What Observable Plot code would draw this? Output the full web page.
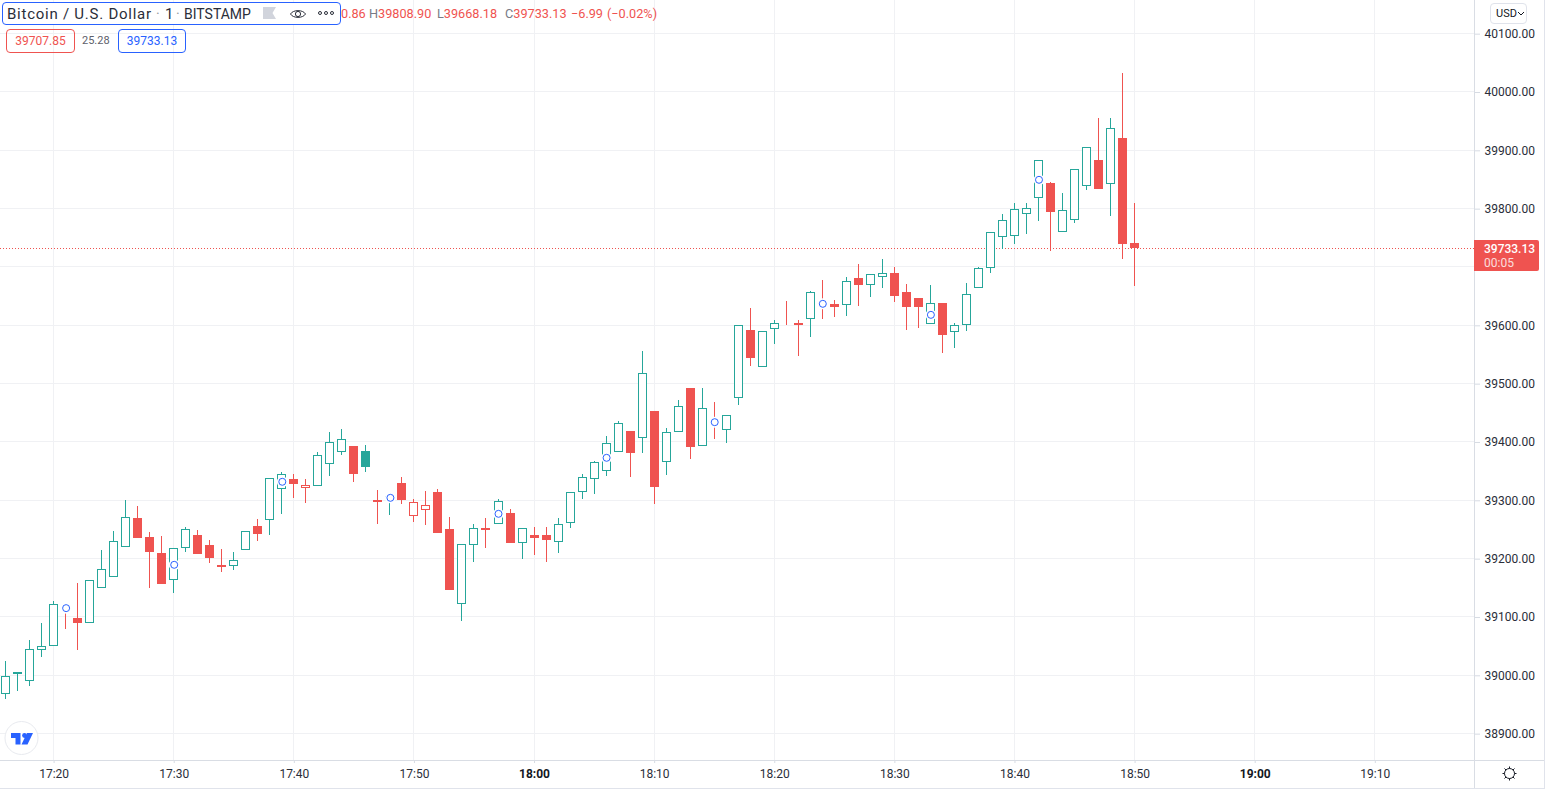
<!DOCTYPE html>
<html><head><meta charset="utf-8">
<script src="https://cdn.jsdelivr.net/npm/d3@7"></script>
<script src="https://cdn.jsdelivr.net/npm/@observablehq/plot@0.6"></script>
<style>
html,body{margin:0;padding:0;background:#fff}
#wrap{position:relative;width:1545px;height:789px;overflow:hidden;font-family:Roboto,sans-serif;color:#131722}
#wrap svg{display:block}
.ov{position:absolute;white-space:nowrap;box-sizing:border-box}
</style></head><body><div id="wrap"></div>
<script>
const times = ["17:16","17:17","17:18","17:19","17:20","17:21","17:22","17:23","17:24","17:25","17:26","17:27","17:28","17:29","17:30","17:31","17:32","17:33","17:34","17:35","17:36","17:37","17:38","17:39","17:40","17:41","17:42","17:43","17:44","17:45","17:46","17:47","17:48","17:49","17:50","17:51","17:52","17:53","17:54","17:55","17:56","17:57","17:58","17:59","18:00","18:01","18:02","18:03","18:04","18:05","18:06","18:07","18:08","18:09","18:10","18:11","18:12","18:13","18:14","18:15","18:16","18:17","18:18","18:19","18:20","18:21","18:22","18:23","18:24","18:25","18:26","18:27","18:28","18:29","18:30","18:31","18:32","18:33","18:34","18:35","18:36","18:37","18:38","18:39","18:40","18:41","18:42","18:43","18:44","18:45","18:46","18:47","18:48","18:49","18:50"];
const opens = [38967.4,39002.9,38989.7,39042.9,39049.7,39117.7,39098.3,39090.3,39150.3,39169.1,39220.6,39269.7,39237.1,39209.7,39164,39218.8,39240.6,39223.4,39189.1,39188,39215.4,39256,39265.7,39320,39336.6,39321.7,39325.1,39362.8,39383.4,39393.1,39384.6,39300.6,39303.4,39329.7,39273.7,39284,39314.3,39250.9,39121.7,39224,39252.6,39258.8,39278.3,39227.4,39240.5,39240.5,39228,39260.5,39313.7,39336,39349.7,39382.2,39418.8,39406.2,39453.1,39365.1,39416.5,39492.5,39392.5,39437.1,39420,39474.8,39592,39527.9,39593.7,39602.8,39604,39610.2,39639.4,39636.5,39634.2,39681.1,39668.5,39682.2,39689.7,39657.1,39646.8,39601.7,39638.2,39588,39600,39663.5,39697.8,39750.9,39752.6,39790.3,39817.8,39844.1,39759.5,39780.1,39838.3,39883.5,39841.8,39921.2,39740.86];
const highs = [39024.6,39005.7,39060.6,39089.7,39127.4,39120.6,39158.3,39162.9,39214.8,39247.4,39300.6,39290.3,39245.7,39238.8,39217.7,39254.3,39249.1,39232,39216.6,39211.4,39246.8,39268,39337.7,39348.6,39345.1,39336.6,39382.8,39417.1,39422.3,39393.1,39394.8,39317.7,39308.6,39340,39302.3,39316,39319.4,39271.4,39224.6,39259.4,39269.7,39302.3,39285.1,39252,39254.2,39254.2,39269.7,39313.7,39345.1,39367.4,39410.2,39435.9,39418.8,39555.9,39453.1,39423.9,39471.9,39492.5,39492.5,39468.5,39445.7,39600.5,39629.7,39590.3,39609.1,39641.7,39609.1,39658.8,39677.7,39643.4,39682.8,39705.1,39687.4,39713.7,39700,39670.8,39646.8,39669.1,39638.2,39603.4,39672.5,39700.1,39759.5,39790.9,39809.8,39809.8,39882.9,39845.8,39826.9,39867.5,39905.2,39955.5,39955.5,40032.6,39808.9];
const lows = [38959.4,38973.1,38981.7,39032,39049.7,39079.4,39043.4,39090.3,39150.3,39169.1,39220.6,39235.4,39149.7,39156.6,39141.1,39211.4,39208,39192.6,39177.1,39180.6,39215.4,39230.3,39240.6,39276.6,39304,39295.4,39325.1,39341.7,39377.7,39331.4,39348.6,39259.4,39274.8,39293.7,39262.8,39257.7,39244,39146.3,39093.1,39194.3,39218.3,39258.8,39226.9,39199.4,39206.2,39194.2,39209.7,39252.5,39302.2,39310.8,39341.7,39382.2,39340,39381.1,39293.7,39343.4,39416.5,39370.8,39392.5,39405.1,39398.2,39463.4,39530.2,39527.9,39567.9,39600.5,39547.4,39580,39610.8,39614.2,39616,39633.1,39648.5,39664,39640,39592,39595.4,39601.7,39552.5,39561.1,39590.2,39663.5,39689.8,39730.9,39739.5,39756.6,39778.9,39727.5,39759.5,39775.5,39832.1,39833.8,39787.5,39713.8,39668.18];
const closes = [38998.3,39005.1,39044.6,39049.7,39121.7,39114.3,39089.7,39162.9,39181.7,39229.7,39270.8,39235.4,39211.4,39156.6,39217.7,39250.3,39208,39201.1,39185.7,39197.1,39246.8,39242.3,39337.7,39344.6,39328,39325.7,39377.1,39399.4,39404.6,39345.1,39357.1,39297.1,39306.8,39300.6,39296.6,39291.4,39244,39146.3,39224.6,39252,39249.1,39298.3,39226.9,39252,39235.4,39232,39258.8,39313.7,39339.4,39365.1,39397.7,39431.9,39381.1,39517.7,39322.8,39416.5,39461.1,39391.4,39457.7,39432.5,39445.7,39600.5,39544.5,39590.3,39604,39600.5,39600.2,39656.5,39636,39631.4,39675.4,39669.1,39687.4,39689.1,39650.2,39631.4,39631.2,39637.7,39583.4,39600,39653.1,39697.8,39759.5,39780.1,39798.9,39800.6,39882.9,39794.3,39797.2,39867.5,39905.2,39833.8,39937.8,39740.12,39733.13];
const markerTimes = ["17:21","17:30","17:39","17:48","17:57","18:06","18:15","18:24","18:33","18:42"];
const markerPrices = [39116,39190.3,39332.6,39305.1,39277.7,39373.7,39434.8,39637.7,39618.8,39850.3];
const priceTicks = [38900,39000,39100,39200,39300,39400,39500,39600,39700,39800,39900,40000,40100];
const hiddenPriceTick = 39700;
const timeTicks = ["17:20","17:30","17:40","17:50","18:00","18:10","18:20","18:30","18:40","18:50","19:00","19:10"];
const boldTimeTicks = ["18:00","19:00"];
const lastClose = 39733.13;
const upColor = "#26a69a", downColor = "#ef5350", gridColor = "#f0f1f4", markerColor = "#2962ff";

const at = s => { const [h, m] = s.split(":").map(Number); return new Date(Date.UTC(2021, 1, 8, h, m)); };
const MIN = 60000, pxPerMin = 12.011;
const shift = (d, px) => new Date(+d + (px / pxPerMin) * MIN);
const candles = times.map((t, i) => {
  const rising = i === 0 || closes[i] >= closes[i - 1];
  const color = rising ? upColor : downColor;
  return {t: at(t), o: opens[i], h: highs[i], l: lows[i], c: closes[i], color, fill: closes[i] > opens[i] ? "#fff" : color};
});
const markers = markerTimes.map((t, i) => ({t: at(t), p: markerPrices[i]}));

// Crisp pixel alignment, as the original canvas chart has.
const snapWith = roundY => function (index, scales, values, dim, ctx, next) {
  const g = next(index, scales, values, dim, ctx);
  d3.select(g).selectAll("line").each(function () {
    for (const a of ["x1", "x2"]) { const v = this.getAttribute(a); if (v != null) this.setAttribute(a, Math.floor(+v)); }
    for (const a of ["y1", "y2"]) { const v = this.getAttribute(a); if (v != null) this.setAttribute(a, roundY(+v)); }
  });
  d3.select(g).selectAll("rect").each(function () {
    const x = +this.getAttribute("x"), w = +this.getAttribute("width"), y = +this.getAttribute("y"), h = +this.getAttribute("height");
    const y0 = Math.round(y), y1 = Math.round(y + h), rw = Math.round(w);
    this.setAttribute("x", Math.floor(x + w / 2) - rw / 2 + 0.5);
    this.setAttribute("width", rw);
    this.setAttribute("y", y0 + 0.5);
    this.setAttribute("height", Math.max(y1 - y0 - 1, 0));
  });
  return g;
};
const snap = snapWith(Math.floor), snapRound = snapWith(Math.round);

const xStart = shift(at("17:20"), -53.6), xEnd = shift(at("17:20"), 1474 - 53.6);
const plot = Plot.plot({
  width: 1545, height: 789,
  marginLeft: 0, marginRight: 71, marginTop: 0, marginBottom: 29,
  style: {background: "#fff", fontFamily: "Roboto, sans-serif", fontSize: "12px"},
  x: {type: "utc", domain: [xStart, xEnd], label: null, axis: null},
  y: {domain: [38854.8, 40157.7], label: null, axis: null},
  color: {type: "identity"},
  marks: [
    Plot.ruleX(timeTicks.map(at), {stroke: gridColor, strokeWidth: 1, render: snap}),
    Plot.ruleY(priceTicks, {stroke: gridColor, strokeWidth: 1, render: snap}),
    Plot.ruleY([lastClose], {stroke: downColor, strokeWidth: 1, strokeDasharray: "1 2", render: snapRound}),
    Plot.ruleX(candles, {x: "t", y1: "l", y2: "h", stroke: "color", strokeWidth: 1, render: snapRound}),
    Plot.rect(candles, {x1: d => shift(d.t, -4), x2: d => shift(d.t, 4), y1: "o", y2: "c", fill: "fill", stroke: "color", strokeWidth: 1, render: snapRound}),
    Plot.dot(markers, {x: "t", y: "p", r: 5.5, fill: "#fff", stroke: null}),
    Plot.dot(markers, {x: "t", y: "p", r: 3.5, fill: "#fff", stroke: markerColor, strokeWidth: 1}),
    Plot.axisY({anchor: "right", ticks: priceTicks.filter(v => v !== hiddenPriceTick), tickFormat: d3.format(".2f"), tickSize: 5, tickPadding: 5, color: "#2a2e39", stroke: "#d6dbe3", label: null, fontSize: 12, fontVariant: "normal"}),
    Plot.axisX({anchor: "bottom", ticks: timeTicks.filter(t => !boldTimeTicks.includes(t)).map(at), tickFormat: d3.utcFormat("%H:%M"), tickSize: 3, tickPadding: 6, color: "#2a2e39", stroke: "#d6dbe3", label: null, fontSize: 12, fontVariant: "normal"}),
    Plot.axisX({anchor: "bottom", ticks: boldTimeTicks.map(at), tickFormat: d3.utcFormat("%H:%M"), tickSize: 3, tickPadding: 6, color: "#131722", stroke: "#d6dbe3", label: null, fontSize: 12, fontWeight: "bold", fontVariant: "normal"})
  ]
});
const wrap = document.getElementById("wrap");
wrap.appendChild(plot);

const overlay = `
<div class="ov" style="left:1474px;top:0;width:1px;height:789px;background:#d9dde4"></div>
<div class="ov" style="left:0;top:760px;width:1545px;height:1px;background:#d9dde4"></div>
<div class="ov" style="left:1544px;top:0;width:1px;height:789px;background:#e0e3eb"></div>
<div class="ov" style="left:0;top:788px;width:1545px;height:1px;background:#e0e3eb"></div>

<div class="ov" style="left:1474px;top:240px;width:65px;height:31px;background:#ef5350;border-radius:0 2px 2px 0;color:#fff;padding-left:10px;font-size:12px;line-height:14px;padding-top:2px">
  <div style="font-weight:500">39733.13</div><div style="opacity:.8">00:05</div></div>

<div class="ov" style="left:341px;top:5px;height:18px;width:330px;font-size:12.7px;line-height:18px;color:#ef5350">
  <span style="position:absolute;left:0">0.86</span>
  <span style="position:absolute;left:28px"><span style="color:#787b86">H</span>39808.90</span>
  <span style="position:absolute;left:96px"><span style="color:#787b86">L</span>39668.18</span>
  <span style="position:absolute;left:164px"><span style="color:#787b86">C</span>39733.13</span>
  <span style="position:absolute;left:230px">−6.99</span>
  <span style="position:absolute;left:266px">(−0.02%)</span>
</div>
<div class="ov" style="left:2px;top:2px;width:339px;height:23px;background:#fff;border:1px solid #2962ff;border-radius:4px"></div>
<div class="ov" style="left:7px;top:5px;font-size:15px;line-height:18px;letter-spacing:.75px;color:#2a2e39">Bitcoin / U.S. Dollar</div>
<div class="ov" style="left:156px;top:5px;font-size:14px;line-height:18px;color:#9598a1">·</div>
<div class="ov" style="left:165px;top:5px;font-size:15px;line-height:18px;color:#2a2e39">1</div>
<div class="ov" style="left:176px;top:5px;font-size:14px;line-height:18px;color:#9598a1">·</div>
<div class="ov" style="left:184px;top:5px;font-size:14px;line-height:18px;color:#2a2e39">BITSTAMP</div>
<svg class="ov" style="left:262px;top:6px" width="16" height="15"><path d="M1 1H14L10.5 7L14 13H1Z" fill="#d1d4dc"/></svg>
<svg class="ov" style="left:289px;top:5px" width="18" height="18"><path d="M1.5 9C4 4.5 14 4.5 16.5 9C14 13.5 4 13.5 1.5 9Z" fill="none" stroke="#2a2e39" stroke-width="1"/><circle cx="9" cy="9" r="2.6" fill="none" stroke="#2a2e39" stroke-width="1"/></svg>
<svg class="ov" style="left:317px;top:8px" width="18" height="10"><g fill="none" stroke="#2a2e39" stroke-width="1"><circle cx="3" cy="5" r="1.5"/><circle cx="9" cy="5" r="1.5"/><circle cx="15" cy="5" r="1.5"/></g></svg>

<div class="ov" style="left:6px;top:29px;width:69px;height:24px;border:1px solid #ef5350;border-radius:4px;color:#ef5350;font-size:12px;line-height:22px;text-align:center">39707.85</div>
<div class="ov" style="left:82px;top:29px;height:24px;color:#5d606b;font-size:11px;line-height:24px">25.28</div>
<div class="ov" style="left:118px;top:29px;width:68px;height:24px;border:1px solid #2962ff;border-radius:4px;color:#2962ff;font-size:12px;line-height:22px;text-align:center">39733.13</div>

<div class="ov" style="left:1490px;top:3px;width:37px;height:21px;background:#fff;border:1px solid #e0e3eb;border-radius:4px;font-size:11px;line-height:19px;padding-left:5px;color:#131722">USD<svg style="position:absolute;left:26px;top:7px" width="8" height="6"><path d="M1 1L4 4L7 1" fill="none" stroke="#131722" stroke-width="1"/></svg></div>

<svg class="ov" style="left:3px;top:720px" width="36" height="36"><circle cx="18.5" cy="18" r="16.5" fill="#fff" stroke="#e8eaef" stroke-width="1"/><g fill="#2962ff"><path d="M8 13H17.5V24.5H12.5V18H8Z"/><circle cx="21.5" cy="15.5" r="2.4"/><path d="M24 13H30L24.5 24.5H18.5Z"/></g></svg>
<svg class="ov" style="left:1501px;top:765px" width="17" height="17"><circle cx="8.5" cy="8.5" r="5" fill="none" stroke="#131722" stroke-width="1"/><g stroke="#131722" stroke-width="1"><path d="M8.5 1.5V3.5M8.5 13.5V15.5M1.5 8.5H3.5M13.5 8.5H15.5M3.5 3.5L5 5M12 12L13.5 13.5M13.5 3.5L12 5M5 12L3.5 13.5"/></g></svg>
`;
const holder = document.createElement("div");
holder.innerHTML = overlay;
while (holder.firstChild) wrap.appendChild(holder.firstChild);
</script></body></html>
